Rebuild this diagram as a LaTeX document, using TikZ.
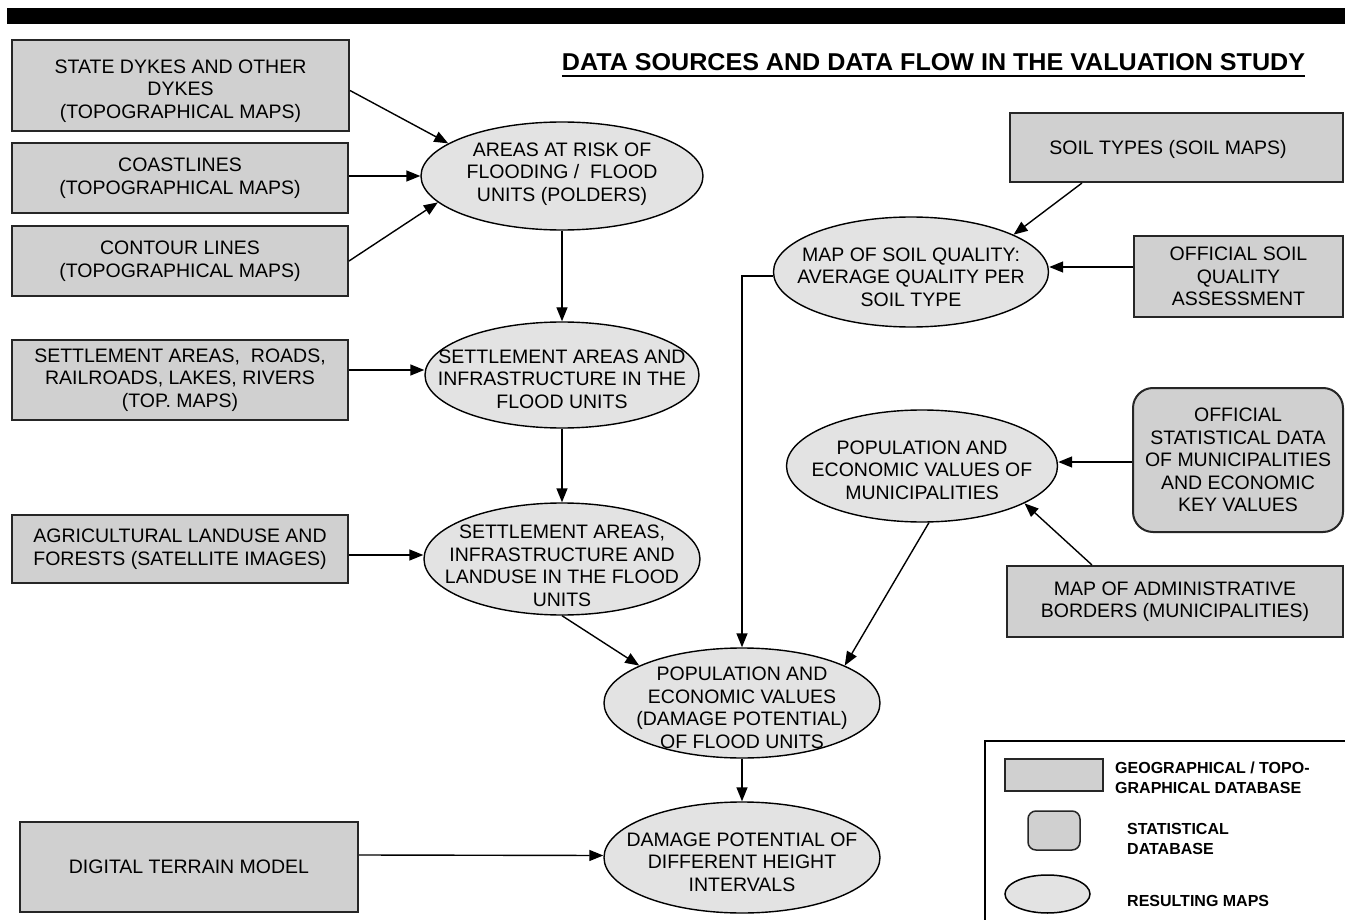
\documentclass[tikz,border=0pt]{standalone}
\usepackage{fontspec}
\usepackage{graphicx}
\setmainfont{Liberation Sans}
\usetikzlibrary{shapes.geometric,arrows.meta}
\definecolor{boxfill}{RGB}{208,208,208}
\definecolor{ellfill}{RGB}{227,227,227}
\begin{document}
\begin{tikzpicture}[x=1pt,y=-1pt,
  dbbox/.style={draw=black!85,line width=2pt,fill=boxfill,align=center,font=\fontsize{19.5}{22.5}\selectfont,inner sep=0pt},
  statbox/.style={dbbox,rounded corners=20pt},
  resmap/.style={ellipse,draw=black,line width=1.4pt,fill=ellfill,inner sep=0pt,minimum width=276pt,minimum height=108pt},
  maptext/.style={align=center,font=\fontsize{19.5}{22.5}\selectfont,inner sep=0pt},
  arr/.style={line width=1.4pt,-{Triangle[length=14pt,width=11pt]}},
  legtext/.style={align=left,anchor=west,font=\bfseries\fontsize{16}{20.5}\selectfont,inner sep=0pt}]
\useasboundingbox (0,0) rectangle (1345,920);
\clip (0,0) rectangle (1345,920);
\fill[white] (0,0) rectangle (1345,920);
% top bar
\fill[black] (7,8) rectangle (1345,24);
% title
\node[inner sep=0pt] (title) at (933.5,62) {\resizebox{743pt}{17pt}{\bfseries DATA SOURCES AND DATA FLOW IN THE VALUATION STUDY}};
\draw[line width=2.5pt] ([yshift=-5pt]title.south west) -- ([yshift=-5pt]title.south east);

% left database boxes
\node[dbbox,minimum width=337pt,minimum height=91pt] (b1) at (180.5,85.5) {};
\node[maptext] (b1t) at (180.5,91) {STATE DYKES AND OTHER\\DYKES\\(TOPOGRAPHICAL MAPS)};
\node[dbbox,minimum width=336pt,minimum height=70pt] (b2) at (180,178) {COASTLINES\\(TOPOGRAPHICAL MAPS)};
\node[dbbox,minimum width=336pt,minimum height=70pt] (b3) at (180,261) {CONTOUR LINES\\(TOPOGRAPHICAL MAPS)};
\node[dbbox,minimum width=336pt,minimum height=80pt] (b4) at (180,380) {SETTLEMENT AREAS,\ \ ROADS,\\RAILROADS, LAKES, RIVERS\\(TOP. MAPS)};
\node[dbbox,minimum width=336pt,minimum height=68pt] (b5) at (180,549) {AGRICULTURAL LANDUSE AND\\FORESTS (SATELLITE IMAGES)};
\node[dbbox,minimum width=338pt,minimum height=90pt] (b6) at (189,867) {DIGITAL TERRAIN MODEL};

% right database boxes
\node[dbbox,minimum width=333pt,minimum height=69pt] (b7) at (1176.5,147.5) {};
\node[maptext] (b7t) at (1168,149) {SOIL TYPES (SOIL MAPS)};
\node[dbbox,minimum width=209pt,minimum height=81pt] (b8) at (1238.5,276.5) {OFFICIAL SOIL\\QUALITY\\ASSESSMENT};
\node[statbox,minimum width=210pt,minimum height=144pt] (b9) at (1238,460) {OFFICIAL\\STATISTICAL DATA\\OF MUNICIPALITIES\\AND ECONOMIC\\KEY VALUES};
\node[dbbox,minimum width=336pt,minimum height=71pt] (b10) at (1175,601.5) {MAP OF ADMINISTRATIVE\\BORDERS (MUNICIPALITIES)};

% resulting maps
\node[resmap,minimum width=282pt] (eA) at (562,176) {};
\node[maptext] (eAt) at (562,174) {AREAS AT RISK OF\\FLOODING /\ \ FLOOD\\UNITS (POLDERS)};
\node[resmap,minimum width=274pt,minimum height=106pt] (eB) at (562,375) {};
\node[maptext] (eBt) at (562,379) {SETTLEMENT AREAS AND\\INFRASTRUCTURE IN THE\\FLOOD UNITS};
\node[resmap,minimum height=112pt] (eC) at (562,559) {};
\node[maptext] (eCt) at (562,566) {SETTLEMENT AREAS,\\INFRASTRUCTURE AND\\LANDUSE IN THE FLOOD\\UNITS};
\node[resmap,minimum width=275pt,minimum height=110pt] (eD) at (911,272) {};
\node[maptext] (eDt) at (911,277) {MAP OF SOIL QUALITY:\\AVERAGE QUALITY PER\\SOIL TYPE};
\node[resmap,minimum width=271pt,minimum height=112pt] (eE) at (922,466) {};
\node[maptext] (eEt) at (922,470) {POPULATION AND\\ECONOMIC VALUES OF\\MUNICIPALITIES};
\node[resmap,minimum height=110pt] (eF) at (742,703) {};
\node[maptext] (eFt) at (742,708) {POPULATION AND\\ECONOMIC VALUES\\(DAMAGE POTENTIAL)\\OF FLOOD UNITS};
\node[resmap,minimum height=111pt] (eG) at (742,857.5) {};
\node[maptext] (eGt) at (742,862) {DAMAGE POTENTIAL OF\\DIFFERENT HEIGHT\\INTERVALS};

% connectors
\draw[arr] ([yshift=-5pt]b1.east) -- (eA.164);
\draw[arr] (eA.west -| b2.east) -- (eA.west);
\draw[arr] (b3.east) -- (eA.192);
\draw[arr] (eA.south) -- (eB.north);
\draw[arr] ([yshift=10pt]b4.east) -- ([yshift=5pt]eB.west);
\draw[arr] (eB.south) -- (eC.north);
\draw[arr] ([yshift=-6pt]b5.east) -- ([yshift=4pt]eC.west);
\draw[arr] (eC.south) -- (eF.160);
\draw[arr] ([yshift=-4pt]eD.west) -| (eF.north);
\draw[arr] ([xshift=-94.5pt]b7.south) -- (eD.20);
\draw[arr] ([yshift=9.5pt]b8.west) -- ([yshift=5pt]eD.east);
\draw[arr] ([yshift=-2pt]b9.west) -- ([yshift=4pt]eE.east);
\draw[arr] ([xshift=-83pt]b10.north) -- (eE.-20);
\draw[arr] (eE.-83) -- (eF.20);
\draw[arr] (eF.south) -- (eG.north);
\draw[arr] ([yshift=12pt]b6.east) -- ([yshift=2pt]eG.west);

% legend
\draw[line width=2pt] (985,741) rectangle (1360,940);
\node[dbbox,minimum width=98pt,minimum height=32pt] (lg1) at (1054,775) {};
\node[legtext] (lg1t) at (1115,778) {GEOGRAPHICAL / TOPO-\\GRAPHICAL DATABASE};
\node[dbbox,line width=1.5pt,rounded corners=8pt,minimum width=52pt,minimum height=39pt] (lg2) at (1054,830.5) {};
\node[legtext] (lg2t) at (1127,839) {STATISTICAL\\DATABASE};
\node[resmap,line width=1.5pt,minimum width=85pt,minimum height=38pt] (lg3) at (1047.5,894) {};
\node[legtext] (lg3t) at (1127,901) {RESULTING MAPS};
\end{tikzpicture}
\end{document}
